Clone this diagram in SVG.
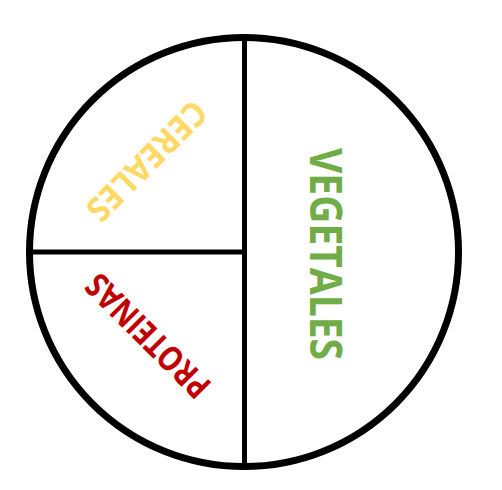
<svg xmlns="http://www.w3.org/2000/svg" width="502" height="490" viewBox="0 0 502 490">
<style>
.ln{fill:none;stroke:#000;stroke-width:5}
.lbl{font-family:"Open Sans","Liberation Sans",sans-serif;font-weight:bold;text-anchor:middle}
</style>
<rect width="502" height="490" fill="#fff"/>
<g id="plate">
<circle cx="244" cy="252" r="214.5" fill="none" stroke="#000" stroke-width="7"/>
</g>
<g id="connectors">
<line class="ln" x1="244.5" y1="36" x2="244.5" y2="468"/>
<line class="ln" x1="30" y1="252" x2="244.5" y2="252"/>
</g>
<g id="cereales">
<text class="lbl" transform="translate(147,161) rotate(135)" y="12" font-size="34" fill="#FFD966" textLength="154" lengthAdjust="spacingAndGlyphs">CEREALES</text>
</g>
<g id="proteinas">
<text class="lbl" transform="translate(148,336) rotate(-135)" y="12" font-size="34" fill="#C00000" textLength="160" lengthAdjust="spacingAndGlyphs">PROTEINAS</text>
</g>
<g id="vegetales">
<text class="lbl" transform="translate(326,254) rotate(90)" y="16" font-size="45" fill="#70AD47" textLength="212" lengthAdjust="spacingAndGlyphs">VEGETALES</text>
</g>
</svg>
